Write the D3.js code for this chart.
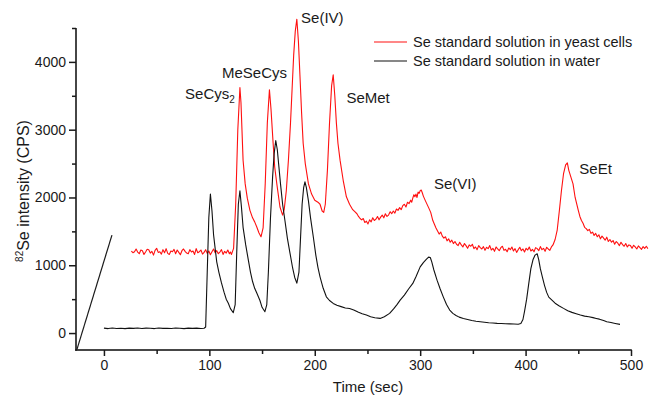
<!DOCTYPE html>
<html>
<head>
<meta charset="utf-8">
<script src="https://cdn.jsdelivr.net/npm/d3@7"></script>
<style>
  body { margin: 0; background: #fff; }
  svg { display: block; font-family: "Liberation Sans", Arial, sans-serif; }
</style>
</head>
<body>
<div id="chart"></div>
<script>
// [time (sec), intensity (CPS)]
const yeastSeries = [
  [26,1210],[27.5,1185],[29,1200],[30.5,1240],[32,1195],[33.5,1170],[35,1225],[36.5,1215],[38,1160],[39.5,1195],
  [41,1235],[42.5,1230],[44,1180],[45.5,1205],[47,1150],[48.5,1220],[50,1250],[51.5,1190],[53,1200],[54.5,1165],
  [56,1230],[57.5,1185],[59,1245],[60.5,1175],[62,1160],[63.5,1210],[65,1200],[66.5,1235],[68,1170],[69.5,1225],
  [71,1190],[72.5,1155],[74,1215],[75.5,1240],[77,1205],[78.5,1180],[80,1170],[81.5,1230],[83,1195],[84.5,1210],
  [86,1160],[87.5,1245],[89,1185],[90.5,1200],[92,1225],[93.5,1165],[95,1190],[96.5,1230],[98,1175],[99.5,1210],
  [101,1155],[102.5,1200],[104,1240],[105.5,1185],[107,1215],[108.5,1170],[110,1195],[111.5,1230],[113,1160],[114.5,1205],
  [116,1180],[117.5,1225],[119,1170],[120,1195],[121,1160],[123,1250],[125,1900],[127,3000],[129,3620],[130,3400],
  [132,2550],[134,2200],[136,1990],[138.5,1810],[141,1700],[143,1640],[145,1565],[147,1480],[149,1420],[151,1550],
  [153,2200],[155,3100],[157,3590],[158.5,3300],[160.5,2800],[162,2450],[164,2200],[167,1860],[169.5,1740],[171,1820],
  [173,2100],[175,2550],[177,3100],[178.5,3600],[180,4100],[181.5,4450],[183,4630],[184.5,4300],[186,3780],[187.5,3250],
  [189,2800],[191,2500],[194,2200],[197,2050],[200,1960],[203,1930],[205,1900],[207,1800],[208.5,1780],[210,1900],
  [212,2400],[214,3100],[216,3650],[217.5,3810],[219,3500],[220.5,3100],[222,2800],[224,2550],[227,2250],[230,2010],
  [233,1900],[236,1820],[238,1790],[240,1760],[241.5,1720],[243,1690],[244.5,1670],[246,1690],[247.5,1630],[249,1650],
  [250.5,1610],[252,1670],[253.5,1640],[255,1700],[256.5,1660],[258,1680],[259.5,1720],[261,1670],[262.5,1710],[264,1740],
  [265.5,1700],[267,1760],[268.5,1720],[270,1740],[271.5,1790],[273,1760],[274.5,1800],[276,1770],[277.5,1830],[279,1810],
  [280.5,1850],[282,1820],[283.5,1880],[285,1900],[286.5,1860],[288,1930],[289.5,1910],[291,1960],[292,1930],[293,1990],
  [294,2040],[295,2010],[296,2050],[297,2000],[298,2080],[299,2060],[300,2100],[301,2110],[302,2070],[303,2020],
  [305,1950],[308,1850],[310,1780],[312,1660],[315,1550],[318,1460],[319.5,1490],[321,1430],[322.5,1400],[324,1420],
  [325.5,1360],[327,1390],[328.5,1340],[330,1370],[331.5,1320],[333,1350],[334.5,1310],[336,1290],[337.5,1340],[339,1300],
  [340.5,1270],[342,1320],[343.5,1290],[345,1250],[346.5,1300],[348,1280],[349.5,1310],[351,1245],[352.5,1270],[354,1230],
  [355.5,1290],[357,1260],[358.5,1240],[360,1275],[361.5,1220],[363,1265],[364.5,1245],[366,1290],[367.5,1225],[369,1250],
  [370.5,1205],[372,1270],[373.5,1240],[375,1215],[376.5,1260],[378,1280],[379.5,1220],[381,1235],[382.5,1200],[384,1255],
  [385.5,1230],[387,1270],[388.5,1210],[390,1245],[391.5,1190],[393,1230],[394.5,1265],[396,1215],[397.5,1240],[399,1195],
  [400.5,1250],[402,1225],[403.5,1270],[405,1210],[406.5,1235],[408,1200],[409.5,1260],[411,1245],[412.5,1215],[414,1275],
  [415.5,1230],[417,1250],[418.5,1205],[420,1265],[421.5,1240],[423,1220],[424.5,1270],[426,1300],[428,1380],[430,1520],
  [432,1800],[434,2100],[436,2350],[438,2480],[439.6,2510],[441,2400],[443,2300],[445,2200],[447,2000],[450,1810],
  [451.5,1720],[453,1660],[454.5,1620],[456,1560],[457.5,1540],[459,1510],[460.5,1530],[462,1470],[463.5,1490],[465,1440],
  [466.5,1470],[468,1420],[469.5,1450],[471,1390],[472.5,1430],[474,1400],[475.5,1370],[477,1415],[478.5,1350],[480,1380],
  [481.5,1340],[483,1365],[484.5,1310],[486,1350],[487.5,1325],[489,1290],[490.5,1340],[492,1305],[493.5,1280],[495,1320],
  [496.5,1270],[498,1300],[499.5,1290],[501,1250],[502.5,1295],[504,1270],[505.5,1240],[507,1285],[508.5,1260],[510,1235],
  [511.5,1275],[513,1250],[514.5,1280],[516,1245]
];

const waterSeries = [
  [0,72],[4,66],[8,74],[12,68],[16,71],[20,65],[24,73],[28,69],[32,75],[36,67],
  [40,72],[44,70],[48,66],[52,74],[56,69],[60,71],[64,67],[68,74],[72,70],[76,66],
  [80,73],[84,69],[88,72],[92,68],[95,71],[96.5,90],[98,900],[99.5,1700],[101,2050],[102.5,1800],
  [104,1450],[105.5,1250],[107,1050],[109,900],[111.5,740],[114,600],[116,500],[118,440],[120,360],[122.7,300],
  [124.5,420],[126,1200],[127.5,1900],[129,2100],[130.5,1850],[132,1560],[134.5,1300],[137,1075],[139,900],[141,760],
  [143,660],[145,590],[148,480],[150,380],[152.7,315],[154.5,420],[156,900],[158,1700],[160,2300],[161.5,2650],
  [163,2840],[164.5,2700],[166,2450],[167.5,2200],[169.5,1900],[171.7,1660],[174,1400],[176.5,1180],[179,960],[181,820],
  [183,736],[185,900],[186.5,1400],[188,1900],[189.5,2150],[190.7,2230],[192,2150],[194,1950],[196,1700],[198.6,1420],
  [201,1150],[203,970],[205,830],[208,660],[211,535],[214,480],[217.5,437],[221,410],[225,390],[229,370],
  [233,363],[237,340],[241,310],[245,285],[249,265],[253,240],[257,225],[262,216],[266,240],[271,290],
  [275,360],[278,420],[281,486],[285,560],[289,650],[293,732],[296,830],[300,976],[303,1040],[306,1090],
  [308,1120],[309.6,1115],[311,1050],[313,930],[316,780],[319,650],[322,530],[325,420],[328,339],[331,290],
  [334,260],[337,235],[341,216],[345,200],[349,185],[353,175],[357,167],[361,160],[365,152],[369,148],
  [373,143],[377,140],[381,138],[385,135],[389,133],[393,130],[395.5,140],[397.5,200],[399,320],[401,500],
  [403,730],[405,950],[407,1080],[409,1150],[411,1170],[412.5,1080],[414,950],[416,820],[418,700],[420,600],
  [422,530],[425,486],[428,440],[432,400],[436,364],[440,330],[444,305],[448,285],[452,265],[456,250],
  [460,240],[464,228],[467,216],[470,205],[474,185],[477,167],[481,155],[485,142],[489.6,128]
];

// the stray diagonal stroke in the lower-left corner of the original
const strayStroke = [[-25.6,-240],[7.6,1445]];

const seriesNames = ["Se standard solution in yeast cells", "Se standard solution in water"];
const seriesColors = ["#ff1010", "#111111"];

const peakLabels = ["SeCys", "MeSeCys", "Se(IV)", "SeMet", "Se(VI)", "SeEt"];
const peakTimes = [77, 112, 187, 230, 313, 451];
const peakValues = [3450, 3760, 4570, 3390, 2130, 2350];

const xMajorTicks = [0, 100, 200, 300, 400, 500];
const xMinorTicks = [50, 150, 250, 350, 450];
const yMajorTicks = [0, 1000, 2000, 3000, 4000];
const yMinorTicks = [500, 1500, 2500, 3500, 4500];

const WIDTH = 656;
const HEIGHT = 397;
const AXIS_COLOR = "#1a1a1a";
const AXIS_WIDTH = 1.6;
const X_MIN = -26.5, X_MAX = 500;
const Y_MIN = -250, Y_MAX = 4500;

const svg = d3.select("#chart")
    .append("svg")
    .attr("width", WIDTH)
    .attr("height", HEIGHT);

const x = d3.scaleLinear().domain([X_MIN, X_MAX]).range([76, 631]);
const y = d3.scaleLinear().domain([Y_MIN, Y_MAX]).range([350, 28]);

// axes: tick marks and labels from d3.axis
const xAxis = d3.axisBottom(x).tickValues(xMajorTicks).tickFormat(d3.format("d"))
    .tickSize(6).tickPadding(4);
const xMinorAxis = d3.axisBottom(x).tickValues(xMinorTicks).tickFormat("").tickSize(4);
const yAxis = d3.axisLeft(y).tickValues(yMajorTicks).tickFormat(d3.format("d"))
    .tickSize(7).tickPadding(3);
const yMinorAxis = d3.axisLeft(y).tickValues(yMinorTicks).tickFormat("").tickSize(4);

svg.append("g").attr("transform", `translate(0,${y(Y_MIN)})`).call(xAxis);
svg.append("g").attr("transform", `translate(0,${y(Y_MIN)})`).call(xMinorAxis);
svg.append("g").attr("transform", `translate(${x(X_MIN)},0)`).call(yAxis);
svg.append("g").attr("transform", `translate(${x(X_MIN)},0)`).call(yMinorAxis);

svg.selectAll(".domain").remove();
svg.selectAll(".tick line")
    .style("stroke", AXIS_COLOR)
    .style("stroke-width", "1.5px");
svg.selectAll(".tick text")
    .style("font-size", "14px")
    .style("font-family", "Liberation Sans, Arial, sans-serif")
    .style("fill", AXIS_COLOR);

// axis lines as thin filled bars
svg.append("rect")
    .attr("x", x(X_MIN) - AXIS_WIDTH / 2)
    .attr("y", y(Y_MAX))
    .attr("width", AXIS_WIDTH)
    .attr("height", y(Y_MIN) - y(Y_MAX) + AXIS_WIDTH / 2)
    .attr("fill", AXIS_COLOR);
svg.append("rect")
    .attr("x", x(X_MIN) - AXIS_WIDTH / 2)
    .attr("y", y(Y_MIN) - AXIS_WIDTH / 2)
    .attr("width", x(X_MAX) - x(X_MIN) + AXIS_WIDTH)
    .attr("height", AXIS_WIDTH)
    .attr("fill", AXIS_COLOR);

// axis titles
svg.append("text")
    .attr("x", 368).attr("y", 392)
    .attr("text-anchor", "middle")
    .attr("font-size", 15)
    .attr("fill", AXIS_COLOR)
    .text("Time (sec)");

const yTitle = svg.append("text")
    .attr("transform", "translate(29,191) rotate(-90)")
    .attr("text-anchor", "middle")
    .attr("font-size", 16)
    .attr("fill", AXIS_COLOR);
yTitle.append("tspan").attr("font-size", 10).attr("dy", -6).text("82");
yTitle.append("tspan").attr("dy", 6).text("Se intensity (CPS)");

// traces
const line = d3.line()
    .x(d => x(d[0]))
    .y(d => y(d[1]));

svg.append("path")
    .datum(strayStroke)
    .attr("d", line)
    .attr("fill", "none")
    .attr("stroke", AXIS_COLOR)
    .attr("stroke-width", 1.2);

svg.selectAll(".trace")
    .data([yeastSeries, waterSeries])
    .join("path")
    .attr("class", "trace")
    .attr("d", line)
    .attr("fill", "none")
    .attr("stroke", (_, i) => seriesColors[i])
    .attr("stroke-width", 1.1)
    .attr("stroke-linejoin", "round");

// peak labels
const labels = svg.selectAll(".peak")
    .data(peakLabels)
    .join("text")
    .attr("class", "peak")
    .attr("x", (_, i) => x(peakTimes[i]))
    .attr("y", (_, i) => y(peakValues[i]))
    .attr("font-size", 15)
    .attr("fill", AXIS_COLOR)
    .text(d => d);
labels.filter((_, i) => i === 0)
    .append("tspan")
    .attr("font-size", 10)
    .attr("dy", 4)
    .text("2");

// legend
const legend = svg.selectAll(".legend")
    .data(seriesNames)
    .join("g")
    .attr("class", "legend")
    .attr("transform", (_, i) => `translate(374,${42 + i * 19})`);
legend.append("line")
    .attr("x1", 0).attr("x2", 33)
    .attr("stroke", (_, i) => seriesColors[i])
    .attr("stroke-width", 1.2);
legend.append("text")
    .attr("x", 39).attr("y", 5)
    .attr("font-size", 14.5)
    .attr("fill", AXIS_COLOR)
    .text(d => d);
</script>
</body>
</html>
